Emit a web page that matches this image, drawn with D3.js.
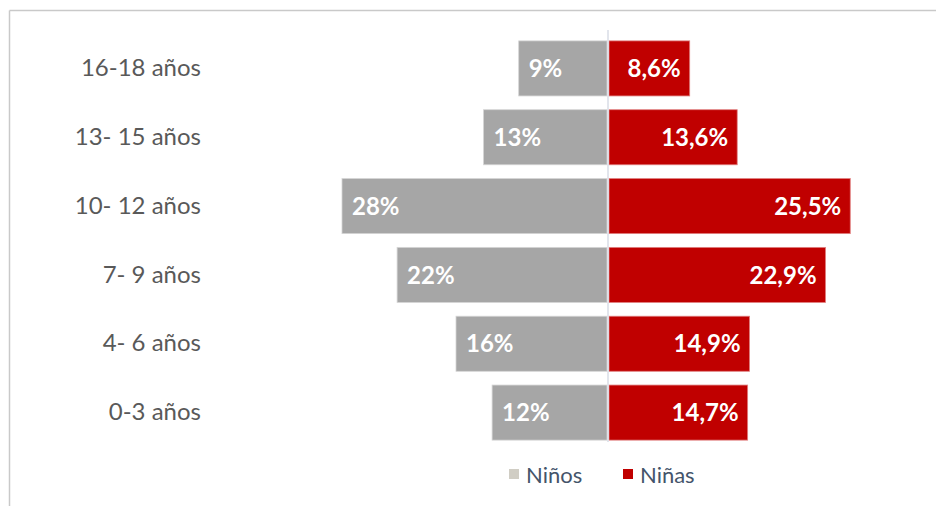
<!DOCTYPE html>
<html>
<head>
<meta charset="utf-8">
<script src="https://cdn.jsdelivr.net/npm/d3@7"></script>
<style>
  body { margin: 0; background: #fff; }
  svg { display: block; }
</style>
</head>
<body>
<div class="container"></div>
<script>
// age groups, top to bottom
const categories = ['16-18 años', '13- 15 años', '10- 12 años', '7- 9 años', '4- 6 años', '0-3 años']
// bar lengths (labels are rounded)
const ninos = [9.4, 13.1, 28, 22.2, 16, 12.2]
const ninas = [8.6, 13.6, 25.5, 22.9, 14.9, 14.7]
const ninosLabels = ['9%', '13%', '28%', '22%', '16%', '12%']
const ninasLabels = ['8,6%', '13,6%', '25,5%', '22,9%', '14,9%', '14,7%']
const seriesNames = ['Niños', 'Niñas']

const width = 936, height = 506
const center = 608

const svg = d3.select('.container')
    .append('svg')
    .attr('width', width)
    .attr('height', height)

// frame lines (top + left)
svg.append('line')
    .attr('x1', 9.5).attr('x2', width).attr('y1', 10.5).attr('y2', 10.5)
    .attr('stroke', '#c9c9c9').attr('stroke-width', 1.5)
svg.append('line')
    .attr('x1', 9.5).attr('x2', 9.5).attr('y1', 10.5).attr('y2', height)
    .attr('stroke', '#c9c9c9').attr('stroke-width', 1.5)

const y = d3.scaleBand()
    .domain(categories)
    .range([34, 447])
    .paddingInner(0.2)
    .paddingOuter(0.1)

const xLeft = d3.scaleLinear().domain([0, 28]).range([center, center - 266])
const xRight = d3.scaleLinear().domain([0, 28]).range([center, center + 266])

const rows = categories.map((c, i) => ({
    cat: c, boy: ninos[i], girl: ninas[i], boyL: ninosLabels[i], girlL: ninasLabels[i]
}))

// gray bars (left)
svg.selectAll('.boy')
    .data(rows)
    .enter()
    .append('rect')
    .attr('class', 'boy')
    .attr('x', d => xLeft(d.boy))
    .attr('y', d => y(d.cat))
    .attr('width', d => center - xLeft(d.boy) - 1)
    .attr('height', y.bandwidth())
    .attr('fill', '#a6a6a6')
    .attr('stroke', '#d5d5d5')
    .attr('stroke-width', 0.8)

// red bars (right)
svg.selectAll('.girl')
    .data(rows)
    .enter()
    .append('rect')
    .attr('class', 'girl')
    .attr('x', center + 1)
    .attr('y', d => y(d.cat))
    .attr('width', d => xRight(d.girl) - center - 1)
    .attr('height', y.bandwidth())
    .attr('fill', '#c00000')
    .attr('stroke', '#e08080')
    .attr('stroke-width', 0.8)

// center axis
svg.append('line')
    .attr('x1', center).attr('x2', center)
    .attr('y1', 30).attr('y2', 442)
    .attr('stroke', '#d9dde6').attr('stroke-width', 1.5)

// value labels
svg.selectAll('.boyLabel')
    .data(rows)
    .enter()
    .append('text')
    .attr('x', d => xLeft(d.boy) + 10)
    .attr('y', d => y(d.cat) + y.bandwidth() / 2)
    .attr('dy', '0.36em')
    .attr('fill', '#fff')
    .style('font', 'bold 24px Lato, sans-serif')
    .text(d => d.boyL)

svg.selectAll('.girlLabel')
    .data(rows)
    .enter()
    .append('text')
    .attr('x', d => xRight(d.girl) - 9)
    .attr('y', d => y(d.cat) + y.bandwidth() / 2)
    .attr('dy', '0.36em')
    .attr('text-anchor', 'end')
    .attr('fill', '#fff')
    .style('font', 'bold 24px Lato, sans-serif')
    .text(d => d.girlL)

// category axis
const yAxis = svg.append('g')
    .attr('transform', 'translate(201, 0)')
    .call(d3.axisLeft(y).tickSize(0).tickPadding(0))
yAxis.select('.domain').remove()
yAxis.selectAll('text')
    .attr('fill', '#595959')
    .style('font', '24px Lato, sans-serif')

// legend
const legendItems = [
    { name: seriesNames[0], color: '#d0cdc4', x: 509 },
    { name: seriesNames[1], color: '#c00000', x: 623 }
]
const legend = svg.selectAll('.legend')
    .data(legendItems)
    .enter()
    .append('g')
    .attr('transform', d => `translate(${d.x}, 469)`)
legend.append('rect')
    .attr('width', 10).attr('height', 10)
    .attr('fill', d => d.color)
legend.append('text')
    .attr('x', 17)
    .attr('y', 6)
    .attr('dy', '0.36em')
    .attr('fill', '#44546a')
    .style('font', '22px Lato, sans-serif')
    .text(d => d.name)
</script>
</body>
</html>
